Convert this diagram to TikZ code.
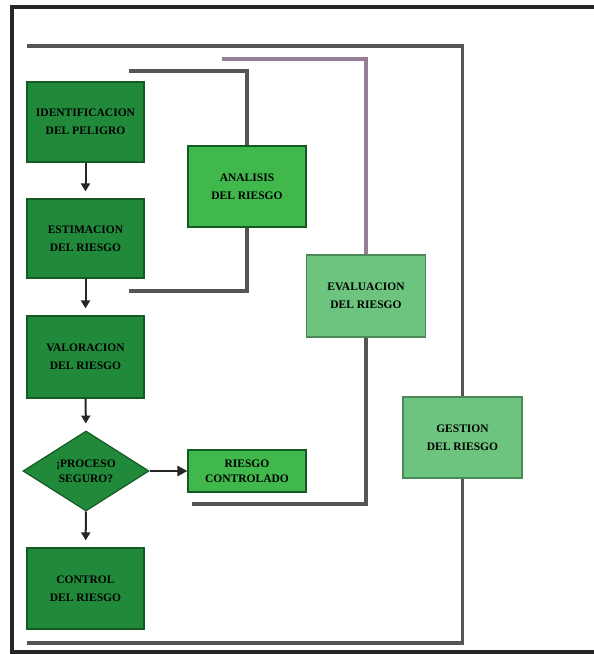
\documentclass[tikz,border=0pt]{standalone}
\usepackage{fontspec}
\setmainfont{Liberation Serif}
\usetikzlibrary{shapes.geometric,arrows.meta}
\definecolor{darkbox}{RGB}{32,138,58}
\definecolor{midbox}{RGB}{64,184,76}
\definecolor{lightbox}{RGB}{108,196,126}
\definecolor{edgegreen}{RGB}{20,90,35}
\definecolor{bracketgray}{RGB}{85,85,85}
\definecolor{bracketpurple}{RGB}{150,125,150}
\tikzset{
  labelfont/.style={font=\bfseries\fontsize{11.5}{18}\selectfont},
  box/.style={draw=edgegreen, line width=1.2pt, minimum width=#1, align=center,
    labelfont, inner sep=0pt},
  darkstep/.style={box=117pt, fill=darkbox, minimum height=80pt},
  midstep/.style={box=118pt, fill=midbox},
  lightstep/.style={box=119pt, fill=lightbox, draw=lightbox!70!black},
  decision/.style={diamond, aspect=1.6, fill=darkbox, draw=edgegreen, line width=1.2pt,
    minimum width=126pt, minimum height=80pt, inner sep=0pt, align=center,
    font=\bfseries\fontsize{11.5}{15}\selectfont},
  flow/.style={line width=2pt, black!85, -{Triangle[length=8pt,width=9pt]}, shorten >=7pt},
  bracket/.style={line width=3.5pt, bracketgray},
  frame/.style={line width=4pt, black!85}
}
\begin{document}
\begin{tikzpicture}[x=1pt,y=-1pt]
\useasboundingbox (0,0) rectangle (594,654);
\fill[white] (0,0) rectangle (594,654);
% outer frame
\draw[frame] (12,654) -- (12,7) -- (594,7);
\draw[frame] (12,652) -- (594,652);

% main flow column
\node[darkstep] (ident) at (85.5,122) {IDENTIFICACION\\DEL PELIGRO};
\node[darkstep, minimum height=79pt] (estim) at (85.5,238.5) {ESTIMACION\\DEL RIESGO};
\node[darkstep, minimum height=82pt] (valor) at (85.5,357) {VALORACION\\DEL RIESGO};
\node[decision] (proc) at (86,471) {¡PROCESO\\SEGURO?};
\node[darkstep, minimum height=81pt] (ctrl) at (85.5,588.5) {CONTROL\\DEL RIESGO};
\node[midstep, minimum height=42pt, font=\bfseries\fontsize{11.5}{15}\selectfont] (rc) at (247,471) {RIESGO\\CONTROLADO};

% grouping boxes
\node[midstep, minimum height=81pt] (anal) at (247,186.5) {ANALISIS\\DEL RIESGO};
\node[lightstep, minimum height=82pt] (eval) at (366,296) {EVALUACION\\DEL RIESGO};
\node[lightstep, minimum height=81pt] (gest) at (462.5,437.5) {GESTION\\DEL RIESGO};

% flow arrows
\draw[flow] (ident) -- (estim);
\draw[flow] (estim) -- (valor);
\draw[flow] (valor) -- (proc);
\draw[flow] (proc) -- (ctrl);
\draw[line width=2.6pt, black!85, -{Triangle[length=10pt,width=10pt]}] (proc.east) -- (rc.west);

% bracket ends
\coordinate (aTop) at (129,71);
\coordinate (aBot) at (129,291);
\coordinate (eTop) at (222,59);
\coordinate (eBot) at (192,504);
\coordinate (gTop) at (27,46);
\coordinate (gBot) at (27,643);

% analysis bracket
\draw[bracket] (aTop) -| (anal.north);
\draw[bracket] (anal.south) |- (aBot);
% evaluation bracket
\draw[bracket, bracketpurple] (eTop) -| (eval.north);
\draw[bracket] (eval.south) |- (eBot);
% management bracket
\draw[bracket] (gTop) -| (gest.north);
\draw[bracket] (gest.south) |- (gBot);
\end{tikzpicture}
\end{document}
